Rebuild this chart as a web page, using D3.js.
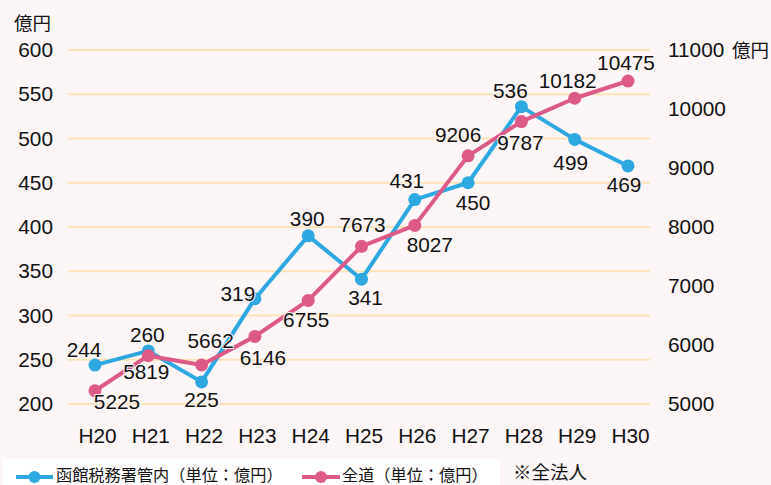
<!DOCTYPE html>
<html><head><meta charset="utf-8">
<script src="https://cdn.jsdelivr.net/npm/d3@7"></script>
<style>
html,body{margin:0;padding:0;background:#fcf6f7;}
svg{display:block;}
text{font-family:"Liberation Sans","Noto Sans CJK JP",sans-serif;fill:#111;}
.jp{font-family:"Noto Sans CJK JP","Liberation Sans",sans-serif;}
</style></head>
<body>
<script>
const categories = ["H20","H21","H22","H23","H24","H25","H26","H27","H28","H29","H30"];
const hakodate = [244,260,225,319,390,341,431,450,536,499,469];
const zendo = [5225,5819,5662,6146,6755,7673,8027,9206,9787,10182,10475];
const leftTicks = [200,250,300,350,400,450,500,550,600];
const rightTicks = [5000,6000,7000,8000,9000,10000,11000];
const seriesNames = ["函館税務署管内（単位：億円）","全道（単位：億円）"];
const unitLabel = "億円";
const note = "※全法人";

// label offsets [dx, dy] relative to point (layout only)
const hakoOffsets = [[-11,-8],[-1,-9],[0,25],[-17,2],[-1,-10],[4,26],[-8,-12],[5,27],[-11,-9],[-4,31],[-4,26]];
const zendoOffsets = [[22,18],[-2,23],[9,-17],[8,29],[-2,27],[1,-14],[15,27],[-10,-14],[-1,28],[-7,-10],[-2,-11]];

const W=771,H=485;
const blue="#2ea8e0", pink="#dd5a88", grid="#fde3b5", bg="#fcf6f7";
const FS=20.8;
const svg=d3.select("body").append("svg").attr("width",W).attr("height",H);
svg.append("rect").attr("width",W).attr("height",H).attr("fill",bg);

const x=d3.scalePoint().domain(categories).range([95,628]);
const yL=d3.scaleLinear().domain([200,600]).range([404,50]);
const yR=d3.scaleLinear().domain([5000,11000]).range([404,50]);

// grid
svg.append("g").selectAll("line").data(leftTicks).join("line")
  .attr("x1",68).attr("x2",650).attr("y1",d=>yL(d)).attr("y2",d=>yL(d))
  .attr("stroke",grid).attr("stroke-width",2);

// left axis
const axL=svg.append("g").attr("transform","translate(53,0)")
  .call(d3.axisLeft(yL).tickValues(leftTicks).tickSize(0).tickPadding(0));
axL.select(".domain").remove();
axL.selectAll("text").attr("font-size",FS).attr("fill","#111").style("font-family","Liberation Sans");

// right axis
const axR=svg.append("g").attr("transform","translate(668,0)")
  .call(d3.axisRight(yR).tickValues(rightTicks).tickSize(0).tickPadding(0).tickFormat(d3.format("d")));
axR.select(".domain").remove();
axR.selectAll("text").attr("font-size",FS).attr("fill","#111").style("font-family","Liberation Sans");

// x axis
const axX=svg.append("g").attr("transform","translate(2,404)")
  .call(d3.axisBottom(x).tickSize(0).tickPadding(24));
axX.select(".domain").remove();
axX.selectAll("text").attr("font-size",FS).attr("fill","#111").style("font-family","Liberation Sans");

// unit labels
svg.append("text").attr("class","jp").attr("x",14).attr("y",30).attr("font-size",18.5).text(unitLabel);
svg.append("text").attr("class","jp").attr("x",732).attr("y",57).attr("font-size",18.5).text(unitLabel);

// lines
function drawSeries(vals,scale,color){
  const line=d3.line().x((d,i)=>x(categories[i])).y(d=>scale(d));
  svg.append("path").datum(vals).attr("d",line).attr("fill","none")
    .attr("stroke",color).attr("stroke-width",4).attr("stroke-linejoin","round");
  svg.append("g").selectAll("circle").data(vals).join("circle")
    .attr("cx",(d,i)=>x(categories[i])).attr("cy",d=>scale(d)).attr("r",6.5).attr("fill",color);
}
drawSeries(hakodate,yL,blue);
drawSeries(zendo,yR,pink);

function drawLabels(vals,scale,offs){
  svg.append("g").selectAll("text").data(vals).join("text")
    .attr("x",(d,i)=>x(categories[i])+offs[i][0])
    .attr("y",(d,i)=>scale(d)+offs[i][1])
    .attr("text-anchor","middle").attr("font-size",FS)
    .attr("stroke",bg).attr("stroke-width",2).attr("paint-order","stroke")
    .text(d=>d);
}
drawLabels(hakodate,yL,hakoOffsets);
drawLabels(zendo,yR,zendoOffsets);

// legend
svg.append("rect").attr("x",3).attr("y",459).attr("width",497).attr("height",30).attr("fill","#fff");
const leg=[{c:blue,x0:16,x1:53,tx:56,name:seriesNames[0]},{c:pink,x0:302,x1:340,tx:342,name:seriesNames[1]}];
leg.forEach(l=>{
  svg.append("line").attr("x1",l.x0).attr("x2",l.x1).attr("y1",477).attr("y2",477).attr("stroke",l.c).attr("stroke-width",4);
  svg.append("circle").attr("cx",(l.x0+l.x1)/2).attr("cy",477).attr("r",6).attr("fill",l.c);
  svg.append("text").attr("class","jp").attr("x",l.tx).attr("y",481).attr("font-size",16.2).text(l.name);
});
svg.append("text").attr("class","jp").attr("x",513).attr("y",479).attr("font-size",18.5).text(note);
</script>
</body></html>
